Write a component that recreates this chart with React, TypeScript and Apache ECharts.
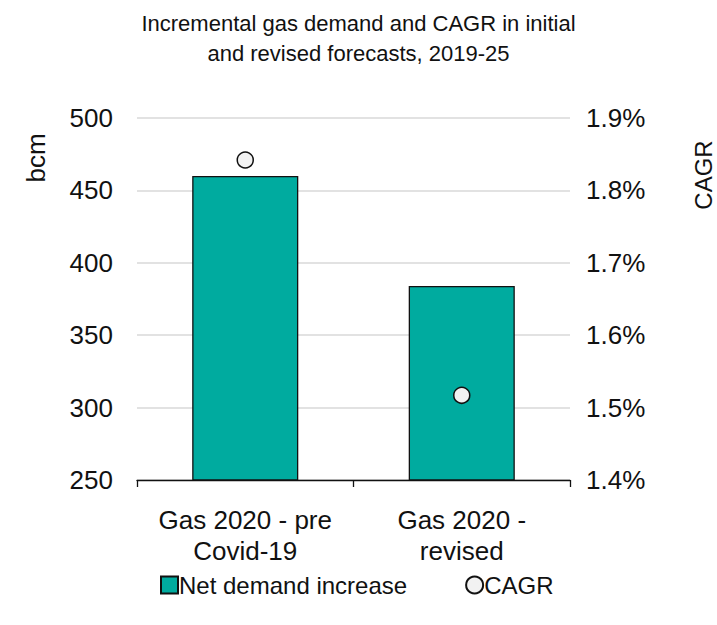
import React, { useEffect, useRef } from "react";
import * as echarts from "echarts";

const categories = ["Gas 2020 - pre\nCovid-19", "Gas 2020 -\nrevised"];
const demandIncrease = [460, 384];
const cagr = [1.842, 1.517];
const leftTicks = { min: 250, max: 500, interval: 50 };
const rightTicks = { min: 1.4, max: 1.9, interval: 0.1 };

const FONT = "'Liberation Sans', Arial, sans-serif";
const NARROW = "'Liberation Sans Narrow', 'Liberation Sans', Arial, sans-serif";
const INK = "#111";

export default function App() {
  const ref = useRef<HTMLDivElement>(null);
  useEffect(() => {
    if (!ref.current) return;
    const chart = echarts.init(ref.current, null, { renderer: "svg" });
    chart.setOption({
      animation: false,
      textStyle: { fontFamily: FONT },
      title: {
        text: "Incremental gas demand and CAGR in initial\nand revised forecasts, 2019-25",
        left: "center",
        top: 3,
        textStyle: { fontFamily: NARROW, fontSize: 22, fontWeight: "normal", color: INK, lineHeight: 30 },
      },
      grid: { left: 137, right: 147, top: 118, bottom: 145 },
      legend: {
        top: 568,
        left: 155,
        itemGap: 58,
        itemWidth: 17,
        itemHeight: 17,
        textStyle: { fontFamily: FONT, fontSize: 24, color: INK, padding: [0, 0, 0, -4] },
        data: [
          { name: "Net demand increase", icon: "rect" },
          { name: "CAGR", icon: "circle" },
        ],
      },
      xAxis: {
        type: "category",
        data: categories,
        axisLine: { show: true, lineStyle: { color: INK, width: 1.3 } },
        axisTick: { show: true, length: 7, lineStyle: { color: INK, width: 1.3 } },
        axisLabel: { fontFamily: FONT, fontSize: 26, color: INK, margin: 24, lineHeight: 31, interval: 0 },
      },
      yAxis: [
        {
          type: "value",
          min: leftTicks.min,
          max: leftTicks.max,
          interval: leftTicks.interval,
          axisLine: { show: false },
          axisTick: { show: false },
          splitLine: { lineStyle: { color: "#d9d9d9", width: 1.5 } },
          axisLabel: { fontFamily: FONT, fontSize: 26, color: INK, margin: 24 },
        },
        {
          type: "value",
          min: rightTicks.min,
          max: rightTicks.max,
          interval: rightTicks.interval,
          axisLine: { show: false },
          axisTick: { show: false },
          splitLine: { show: false },
          axisLabel: {
            fontFamily: FONT,
            fontSize: 26,
            color: INK,
            margin: 16,
            formatter: (v: number) => v.toFixed(1) + "%",
          },
        },
      ],
      series: [
        {
          name: "Net demand increase",
          type: "bar",
          data: demandIncrease,
          barWidth: "49%",
          itemStyle: { color: "#00ab9f", borderColor: INK, borderWidth: 1.3 },
        },
        {
          name: "CAGR",
          type: "scatter",
          yAxisIndex: 1,
          data: cagr,
          symbol: "circle",
          symbolSize: 16,
          itemStyle: { color: "#f2f2f2", borderColor: INK, borderWidth: 1.5, opacity: 1 },
        },
      ],
      graphic: [
        {
          type: "text",
          x: 36,
          y: 158,
          rotation: Math.PI / 2,
          style: { text: "bcm", font: `26px ${FONT}`, fill: INK, textAlign: "center", textVerticalAlign: "middle" },
        },
        {
          type: "text",
          x: 703,
          y: 175,
          rotation: Math.PI / 2,
          style: { text: "CAGR", font: `24px ${FONT}`, fill: INK, textAlign: "center", textVerticalAlign: "middle" },
        },
      ],
    });
    return () => chart.dispose();
  }, []);
  return <div ref={ref} style={{ width: 717, height: 625, position: "absolute", left: 0, top: 0 }} />;
}
